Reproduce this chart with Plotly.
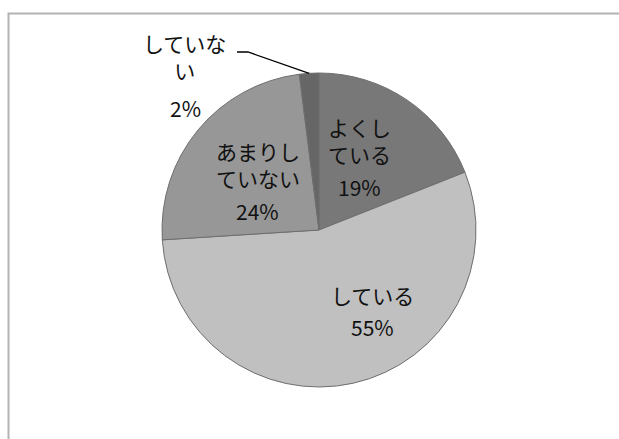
import math
import plotly.graph_objects as go

# Survey answers, clockwise from 12 o'clock
categories = ["よくしている", "している", "あまりしていない", "していない"]
shares = [19, 55, 24, 2]
# Category names wrapped the way they are printed on the chart
wrapped_names = ["よくし<br>ている", "している", "あまりし<br>ていない", "していな<br>い"]
slice_colors = ["#787878", "#c0c0c0", "#979797", "#666666"]

W, H = 619, 439
FONT = "Noto Sans CJK JP, Noto Sans CJK SC, sans-serif"

# Pie placement in pixels (centre and radius)
CX, CY, R = 319, 230, 157


def px_to_paper(x, y):
    return x / W, 1 - y / H


fig = go.Figure(
    go.Pie(
        labels=categories,
        values=shares,
        sort=False,
        direction="clockwise",
        rotation=0,
        textinfo="none",
        hoverinfo="label+percent",
        marker=dict(colors=slice_colors, line=dict(color="#6e6e6e", width=1)),
        domain=dict(
            x=[(CX - R) / W, (CX + R) / W],
            y=[1 - (CY + R) / H, 1 - (CY - R) / H],
        ),
        showlegend=False,
    )
)

# Label anchors (pixel centres of the name block and of the percentage line)
name_pos = [(359, 140), (373, 295), (258, 164), (184, 57)]
pct_pos = [(359, 187), (372, 327), (257, 211), (185, 108)]

annotations = []
for name, value, (nx, ny), (qx, qy) in zip(wrapped_names, shares, name_pos, pct_pos):
    ax, ay = px_to_paper(nx, ny)
    annotations.append(dict(
        x=ax, y=ay, xref="paper", yref="paper", text=name, showarrow=False,
        xanchor="center", yanchor="middle", align="center",
        font=dict(family=FONT, size=21, color="#111111"),
    ))
    bx, by = px_to_paper(qx, qy)
    annotations.append(dict(
        x=bx, y=by, xref="paper", yref="paper", text=f"{value}%", showarrow=False,
        xanchor="center", yanchor="middle",
        font=dict(family=FONT, size=21, color="#111111"),
    ))

# Leader line from the smallest slice's outer edge to its outside label
total = sum(shares)
start = sum(shares[:-1]) / total
mid_angle = 2 * math.pi * (start + shares[-1] / total / 2)
ex = CX + R * math.sin(mid_angle)
ey = CY - R * math.cos(mid_angle)
p0 = px_to_paper(237, 52)
p1 = px_to_paper(248, 52)
p2 = px_to_paper(ex, ey)
leader = dict(
    type="path", xref="paper", yref="paper",
    path=f"M {p0[0]} {p0[1]} L {p1[0]} {p1[1]} L {p2[0]} {p2[1]}",
    line=dict(color="#000000", width=1.3),
)

# Chart-area frame (runs off the right and bottom edges)
frame = dict(
    type="rect", xref="paper", yref="paper",
    x0=8.5 / W, x1=1.05, y0=-0.05, y1=1 - 13.5 / H,
    line=dict(color="#b3b3b3", width=2), fillcolor="rgba(0,0,0,0)",
)

fig.update_layout(
    width=W, height=H,
    margin=dict(l=0, r=0, t=0, b=0),
    paper_bgcolor="white",
    plot_bgcolor="white",
    annotations=annotations,
    shapes=[frame, leader],
)

fig.write_html("out.html")
